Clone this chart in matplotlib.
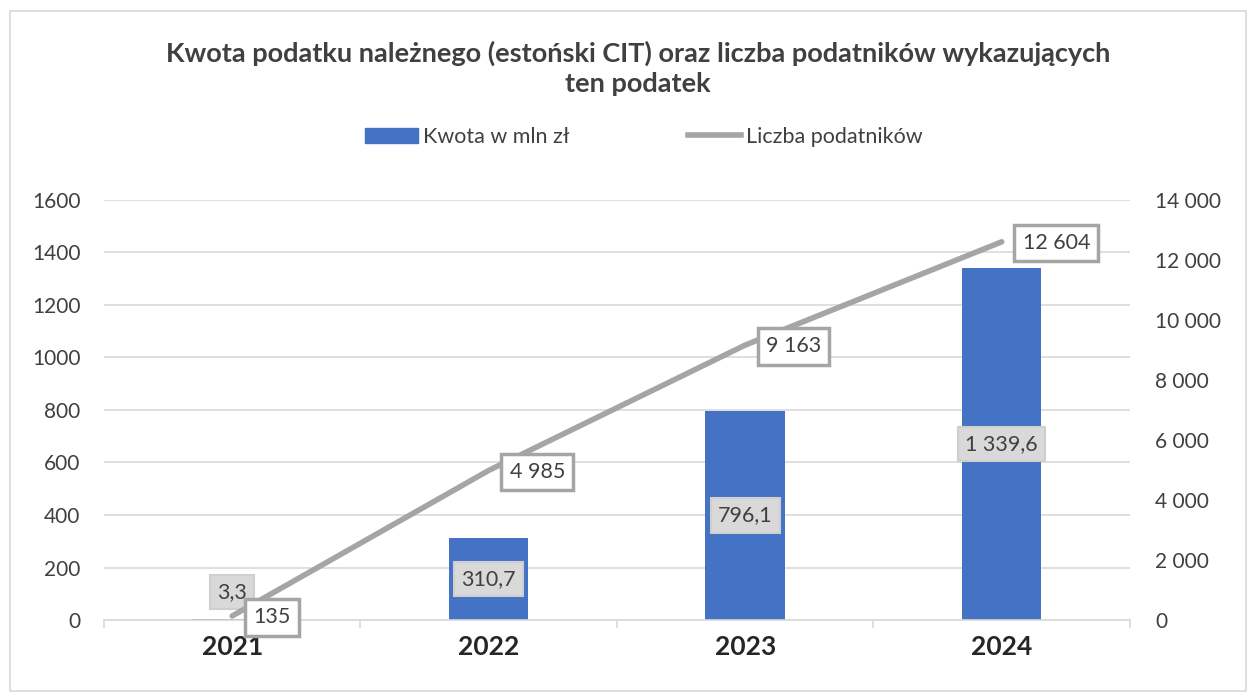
import numpy as np
import matplotlib.pyplot as plt
from matplotlib.lines import Line2D
from matplotlib.patches import Patch, Rectangle

years = ['2021', '2022', '2023', '2024']
kwota = [3.3, 310.7, 796.1, 1339.6]
podatnicy = [135, 4985, 9163, 12604]
kwota_labels = ['3,3', '310,7', '796,1', '1 339,6']
podatnicy_labels = ['135', '4 985', '9 163', '12 604']

plt.rcParams['font.family'] = ['Lato', 'DejaVu Sans']

BLUE = '#4472C4'
GRAY = '#A5A5A5'
GRID = '#D9D9D9'
TXT = '#404040'

fig = plt.figure(figsize=(12.54, 6.99), dpi=100)
fig.patches.append(Rectangle((0.008, 0.012), 0.986, 0.972, transform=fig.transFigure,
                             fill=False, edgecolor=GRID, linewidth=1.2))

ax = fig.add_axes([0.0829, 0.113, 0.8182, 0.601])
ax2 = ax.twinx()

x = np.arange(len(years))
ax.bar(x, kwota, width=0.31, color=BLUE, zorder=2)
ax.set_xlim(-0.5, 3.5)
ax.set_ylim(0, 1600)
ax.set_yticks(np.arange(0, 1601, 200))
ax.grid(axis='y', color=GRID, linewidth=1.2, zorder=0)
ax.set_axisbelow(True)

ax.set_xticks(x)
ax.set_xticklabels(years, fontsize=19, fontweight='bold', color='#262626')
ax.set_xticks(np.arange(-0.5, 3.6, 1), minor=True)
ax.tick_params(axis='x', which='major', length=0, pad=11)
ax.tick_params(axis='x', which='minor', length=6, color=GRID, width=1.2)
ax.tick_params(axis='y', length=0, labelsize=15, labelcolor=TXT, pad=17)
for s in ['top', 'right', 'left']:
    ax.spines[s].set_visible(False)
    ax2.spines[s].set_visible(False)
ax2.spines['bottom'].set_visible(False)
ax.spines['bottom'].set_color(GRID)
ax.spines['bottom'].set_linewidth(1.2)

ax2.plot(x, podatnicy, color=GRAY, linewidth=4, solid_capstyle='round', zorder=3)
ax2.set_ylim(0, 14000)
ax2.set_yticks(np.arange(0, 14001, 2000))
ax2.set_yticklabels([f'{v:,}'.replace(',', ' ') for v in range(0, 14001, 2000)])
ax2.tick_params(axis='y', length=0, labelsize=15, labelcolor=TXT, pad=18)

# etykiety słupków
for xi, v, lab in zip(x, kwota, kwota_labels):
    dy = 20 if v < 50 else 0
    ax.annotate(lab, (xi, v / 2), xytext=(0, dy), textcoords='offset points',
                ha='center', va='center', fontsize=15.5, color=TXT, zorder=5,
                bbox=dict(boxstyle='square,pad=0.33', fc='#D9D9D9', ec='#CFCFCF', lw=1.5))

# etykiety linii
for xi, v, lab in zip(x, podatnicy, podatnicy_labels):
    ax2.annotate(lab, (xi, v), xytext=(15, -1), textcoords='offset points',
                 ha='left', va='center', fontsize=15.5, color=TXT, zorder=6,
                 bbox=dict(boxstyle='square,pad=0.38', fc='white', ec=GRAY, lw=2.5))

fig.text(0.509, 0.902, 'Kwota podatku należnego (estoński CIT) oraz liczba podatników wykazujących\nten podatek',
         ha='center', va='center', fontsize=19.5, fontweight='bold', color='#404040', linespacing=1.3)

handles = [Patch(color=BLUE), Line2D([], [], color=GRAY, linewidth=4)]
fig.legend(handles, ['Kwota w mln zł', 'Liczba podatników'], loc='center', bbox_to_anchor=(0.5135, 0.804),
           ncol=2, frameon=False, fontsize=15.5, handlelength=2.45, handletextpad=0.23,
           columnspacing=5.5, labelcolor=TXT)

fig.savefig('out.png', dpi=100)
